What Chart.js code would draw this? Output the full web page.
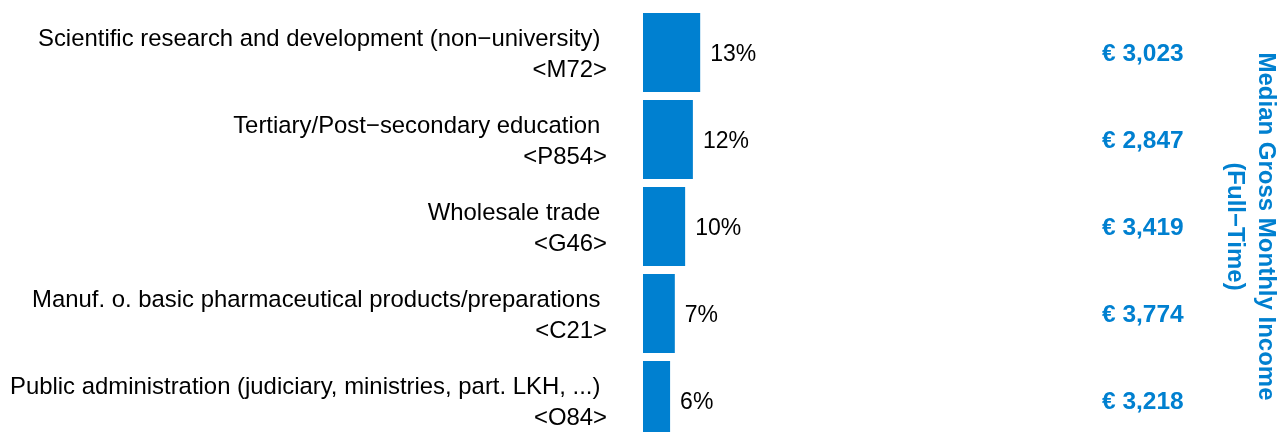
<!DOCTYPE html>
<html>
<head>
<meta charset="utf-8">
<script src="https://cdn.jsdelivr.net/npm/chart.js@4"></script>
<style>
  html, body { margin: 0; padding: 0; overflow: hidden; background: #fff; }
  #wrap { width: 1282px; height: 432px; overflow: hidden; }
</style>
</head>
<body>
<div id="wrap"><canvas id="c" width="1282" height="444"></canvas></div>
<script>
const categoryNames = [
  'Scientific research and development (non\u2212university) ',
  'Tertiary/Post\u2212secondary education ',
  'Wholesale trade ',
  'Manuf. o. basic pharmaceutical products/preparations ',
  'Public administration (judiciary, ministries, part. LKH, ...) '
];
const categoryCodes = ['<M72>', '<P854>', '<G46>', '<C21>', '<O84>'];
const shareValues = [13.3, 11.6, 9.8, 7.4, 6.3];
const shareLabels = ['13%', '12%', '10%', '7%', '6%'];
const incomeValues = [3023, 2847, 3419, 3774, 3218];
const incomeLabels = incomeValues.map(v => '\u20AC ' + v.toLocaleString('en-US'));
const axisTitle = ['Median Gross Monthly Income', '(Full\u2212Time)'];

const BLUE = '#0080D0';
const FONT = "'Liberation Sans', Arial, sans-serif";

const shareLabelPlugin = {
  id: 'shareLabels',
  afterDatasetsDraw(chart) {
    const ctx = chart.ctx;
    const meta = chart.getDatasetMeta(0);
    ctx.save();
    ctx.font = '23px ' + FONT;
    ctx.fillStyle = '#000';
    ctx.textAlign = 'left';
    ctx.textBaseline = 'middle';
    meta.data.forEach((bar, i) => {
      ctx.fillText(shareLabels[i], bar.x + 10, bar.y + 2);
    });
    ctx.restore();
  }
};

function noPad(scale) {
  scale.paddingTop = 0;
  scale.paddingBottom = 0;
}

new Chart(document.getElementById('c'), {
  type: 'bar',
  data: {
    labels: categoryNames.map((n, i) => [n, categoryCodes[i]]),
    datasets: [{
      data: shareValues,
      backgroundColor: BLUE,
      borderWidth: 0,
      barPercentage: 0.908,
      categoryPercentage: 1.0
    }]
  },
  options: {
    indexAxis: 'y',
    responsive: false,
    animation: false,
    layout: { padding: { top: 9, bottom: 0, left: 0, right: 0 } },
    plugins: { legend: { display: false }, tooltip: { enabled: false } },
    scales: {
      x: {
        display: false,
        min: 0,
        max: 100
      },
      y: {
        position: 'left',
        offset: true,
        grid: { display: false, drawTicks: false },
        border: { display: false },
        ticks: {
          color: '#000',
          padding: 36,
          labelOffset: 2.5,
          font: { family: FONT, size: 23.9, lineHeight: 1.32 }
        },
        afterFit(scale) { scale.width = 643; noPad(scale); }
      },
      y2: {
        type: 'category',
        position: 'right',
        labels: incomeLabels,
        offset: true,
        grid: { display: false, drawTicks: false },
        border: { display: false },
        ticks: {
          color: BLUE,
          padding: 29,
          labelOffset: 2,
          font: { family: FONT, size: 24.5, weight: 'bold' }
        },
        title: {
          display: true,
          text: axisTitle,
          color: BLUE,
          padding: { top: 1.5, bottom: 0 },
          font: { family: FONT, size: 24, weight: 'bold', lineHeight: 1.27 }
        },
        afterFit(scale) { scale.width = 209; noPad(scale); }
      }
    }
  },
  plugins: [shareLabelPlugin]
});
</script>
</body>
</html>
